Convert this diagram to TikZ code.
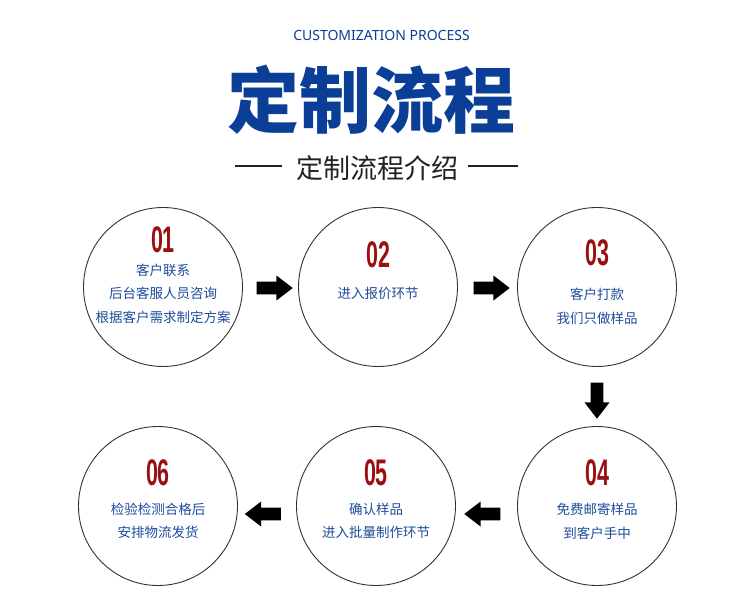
\documentclass[tikz,border=0pt]{standalone}
\usepackage{fontspec}
\usepackage{graphicx}
\usetikzlibrary{shapes.arrows,calc}
\newfontfamily\cjk{Noto Sans CJK SC}
\newfontfamily\latinsans{Noto Sans}
\newfontfamily\digitfont{Liberation Sans}
\definecolor{titleblue}{HTML}{0B3F97}
\definecolor{textblue}{HTML}{1D4C9C}
\definecolor{numred}{HTML}{9A1010}
\definecolor{ringgray}{HTML}{333333}
\definecolor{subgray}{HTML}{222222}
\newcommand{\numtxt}[1]{\scalebox{0.58}[1]{#1}}
\begin{document}
\begin{tikzpicture}[x=1pt,y=-1pt,
  ring/.style={circle,draw=ringgray,line width=0.9pt,minimum size=159pt,inner sep=0pt},
  num/.style={text=numred,font=\digitfont\bfseries\fontsize{37}{37}\selectfont,inner sep=0pt},
  desc/.style={text=textblue,font=\cjk\fontsize{13.5}{23.5}\selectfont,align=center,inner sep=0pt},
  blockarrow/.style={single arrow,fill=black,draw=none,minimum width=25pt,minimum height=36pt,
    single arrow head extend=6pt,single arrow tip angle=75,inner sep=0pt,single arrow head indent=0pt},
  rule/.style={draw=subgray,line width=1.6pt}
]
\useasboundingbox[fill=white] (0,0) rectangle (750,600);

% header
\node[text=titleblue,font=\latinsans\fontsize{14}{14}\selectfont,inner sep=0pt] (eng) at (381.5,35) {CUSTOMIZATION PROCESS};
\node[text=titleblue,font=\cjk\bfseries\fontsize{72}{72}\selectfont,inner sep=0pt] (title) at (371,100) {定制流程};
\node[text=subgray,font=\cjk\fontsize{27}{27}\selectfont,inner sep=0pt] (sub) at (377,168) {定制流程介绍};
\coordinate (la) at (235,166); \coordinate (lb) at (282,166);
\coordinate (ra) at (468,166); \coordinate (rb) at (518,166);
\draw[rule] (la) -- (lb);
\draw[rule] (ra) -- (rb);

% circles
\node[ring] (c1) at (163,287) {};
\node[ring] (c2) at (378,287) {};
\node[ring] (c3) at (597,287) {};
\node[ring] (c4) at (597,506) {};
\node[ring] (c5) at (376,506) {};
\node[ring] (c6) at (158,506) {};

% numbers
\node[num] (n1) at ($(c1)+(0,-47)$) {\numtxt{01}};
\node[num] (n2) at ($(c2)+(0,-32)$) {\numtxt{02}};
\node[num] (n3) at ($(c3)+(0,-34)$) {\numtxt{03}};
\node[num] (n4) at ($(c4)+(0,-33)$) {\numtxt{04}};
\node[num] (n5) at ($(c5)+(0,-33)$) {\numtxt{05}};
\node[num] (n6) at ($(c6)+(0,-33)$) {\numtxt{06}};

% descriptions
\node[desc] (d1) at ($(c1)+(0,6.5)$) {客户联系\\后台客服人员咨询\\根据客户需求制定方案};
\node[desc] (d2) at ($(c2)+(0,6)$) {进入报价环节};
\node[desc] (d3) at ($(c3)+(0,19.5)$) {客户打款\\我们只做样品};
\node[desc] (d4) at ($(c4)+(0,15.5)$) {免费邮寄样品\\到客户手中};
\node[desc] (d5) at ($(c5)+(0,15)$) {确认样品\\进入批量制作环节};
\node[desc] (d6) at ($(c6)+(0,15)$) {检验检测合格后\\安排物流发货};

% arrows
\node[blockarrow] (a12) at ($(c1.east)!0.5!(c2.west)+(0,1)$) {\rule{0pt}{12.5pt}};
\node[blockarrow] (a23) at ($(c2.east)!0.5!(c3.west)+(0,1)$) {\rule{0pt}{12.5pt}};
\node[blockarrow,rotate=-90] (a34) at ($(c3.south)!0.5!(c4.north)$) {\rule{0pt}{12.5pt}};
\node[blockarrow,rotate=180] (a45) at ($(c4.west)!0.5!(c5.east)+(0,8)$) {\rule{0pt}{12.5pt}};
\node[blockarrow,rotate=180] (a56) at ($(c5.west)!0.5!(c6.east)+(0,8)$) {\rule{0pt}{12.5pt}};
\end{tikzpicture}
\end{document}
